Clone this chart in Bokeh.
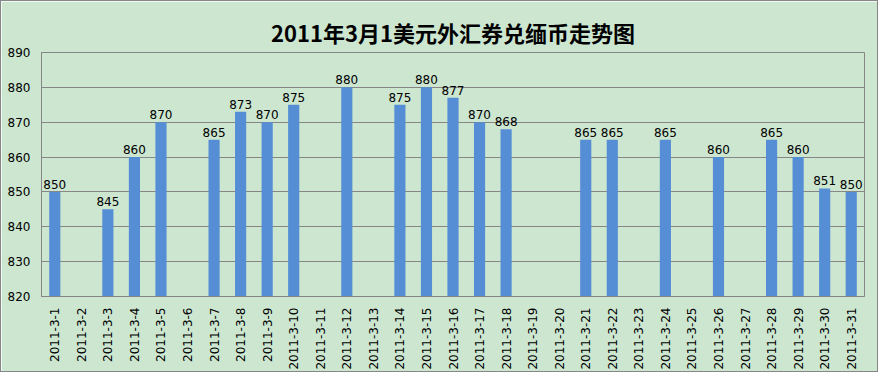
import math
from bokeh.plotting import figure
from bokeh.models import ColumnDataSource, FactorRange, Range1d, Title, LabelSet
from bokeh.core.properties import value
from bokeh.embed import file_html
from bokeh.resources import INLINE

dates = [f"2011-3-{d}" for d in range(1, 32)]
values = [850, None, 845, 860, 870, None, 865, 873, 870, 875, None, 880, None,
          875, 880, 877, 870, 868, None, None, 865, 865, None, 865, None, 860,
          None, 865, 860, 851, 850]
title_text = "2011年3月1美元外汇券兑缅币走势图"
y_min, y_max = 820, 890

bx = [d for d, v in zip(dates, values) if v is not None]
by = [v for v in values if v is not None]
src = ColumnDataSource(dict(x=bx, top=by, lab=[str(v) for v in by]))

bg = "#CCE6D0"
p = figure(x_range=FactorRange(*dates), y_range=Range1d(y_min, y_max),
           width=878, height=372, output_backend="svg", toolbar_location=None,
           min_border_left=40, min_border_right=15, min_border_bottom=77, min_border_top=51)
p.title = Title(text="")
p.add_layout(Title(text=title_text, align="center", text_font="Noto Sans CJK SC",
                   text_font_size="22px", text_font_style="bold", text_color="#000000",
                   offset=0), "above")
p.background_fill_color = bg
p.border_fill_color = bg
p.outline_line_color = "#868686"
p.styles = {"border": "1px solid #868686"}

p.vbar(x="x", top="top", bottom=y_min, width=0.42, source=src,
       fill_color="#558ED5", line_color=None)
p.add_layout(LabelSet(x="x", y="top", text="lab", source=src, text_align="center",
                      text_baseline="bottom", y_offset=3, text_font_size=value("12px"),
                      text_font=value("DejaVu Sans"), text_color="#000000"))

p.xgrid.grid_line_color = None
p.ygrid.grid_line_color = "#868686"
p.yaxis.ticker = list(range(y_min, y_max + 1, 10))
for ax in (p.xaxis, p.yaxis):
    ax.major_tick_line_color = None
    ax.minor_tick_line_color = None
    ax.major_label_text_font = "DejaVu Sans"
    ax.major_label_text_font_size = "12px"
    ax.major_label_text_color = "#000000"
    ax.axis_line_color = "#868686"
p.xaxis.major_label_orientation = math.pi / 2
p.xaxis.group_text_font_size = "0px"

open("out.html", "w").write(file_html(p, INLINE))
